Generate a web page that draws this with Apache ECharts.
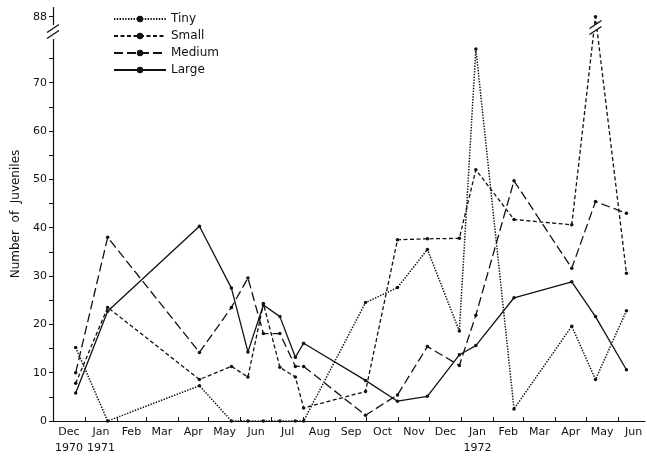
<!DOCTYPE html>
<html><head><meta charset="utf-8">
<script src="https://cdn.jsdelivr.net/npm/echarts@6/dist/echarts.min.js"></script>
<style>html,body{margin:0;padding:0;background:#fff}#c{width:647px;height:456px}</style>
</head><body><div id="c"></div>
<script>
// sampling dates
const sampleDates = ['1970-12-23','1971-01-23','1971-04-22','1971-05-23','1971-06-08','1971-06-23','1971-07-09','1971-07-24','1971-08-01','1971-09-30','1971-10-31','1971-11-29','1971-12-30','1972-01-15','1972-02-21','1972-04-17','1972-05-10','1972-06-09'];
const tiny   = [15.2, 0, 7.3, 0, 0, 0, 0, 0, 0, 24.5, 27.6, 35.5, 18.6, 77, 2.5, 19.6, 8.6, 22.8];
const small  = [7.8, 23.5, 8.6, 11.3, 9.1, 24.3, 11.1, 9.1, 2.7, 6.1, 37.5, 37.7, 37.8, 52, 41.7, 40.6, 88, 30.6];
const medium = [10, 38, 14.2, 23.5, 29.6, 18.1, 18.1, 11.3, 11.3, 1.2, 5.4, 15.4, 11.5, 21.9, 49.7, 31.6, 45.4, 43];
const large  = [5.8, 22.7, 40.3, 27.5, 14.3, 24, 21.6, 13.2, 16.1, 8.4, 4.1, 5.1, 13.7, 15.6, 25.5, 28.8, 21.6, 10.6];

// axis labels
const monthStarts = ['1970-12-01','1971-01-01','1971-02-01','1971-03-01','1971-04-01','1971-05-01','1971-06-01','1971-07-01','1971-08-01','1971-09-01','1971-10-01','1971-11-01','1971-12-01','1972-01-01','1972-02-01','1972-03-01','1972-04-01','1972-05-01','1972-06-01','1972-07-01'];
const monthNames = ['Dec','Jan','Feb','Mar','Apr','May','Jun','Jul','Aug','Sep','Oct','Nov','Dec','Jan','Feb','Mar','Apr','May','Jun'];
const yearNames  = ['1970','1971','','','','','','','','','','','','1972','','','','',''];
const yLabelValues = [0,10,20,30,40,50,60,70,88];
const yTickValues = [0,5,10,15,20,25,30,35,40,45,50,55,60,65,70,75,88];
const seriesNames = ['Tiny','Small','Medium','Large'];

const ts = s => +new Date(s + 'T00:00:00Z');
const tickTs = monthStarts.slice(0, 19).map(ts);
const labelTs = monthNames.map((m, i) => (ts(monthStarts[i]) + ts(monthStarts[i + 1])) / 2);
const labelMap = {};
labelTs.forEach((t, i) => { labelMap[t] = yearNames[i] ? monthNames[i] + '\n' + yearNames[i] : monthNames[i]; });

const FONT = 'DejaVu Sans';
const INK = '#111';
const dashes = [[1.4, 1.4], [4, 2.5], [9, 4], 'solid'];
const widths = [1.5, 1.3, 1.3, 1.3];
const seriesData = [tiny, small, medium, large];

const chart = echarts.init(document.getElementById('c'), null, {renderer: 'canvas'});
chart.setOption({
  animation: false,
  backgroundColor: '#fff',
  grid: {left: 53, right: 2, top: 7, bottom: 33, containLabel: false},
  legend: {
    orient: 'vertical', left: 108, top: 7, itemGap: 3,
    itemWidth: 52, itemHeight: 8,
    data: seriesNames,
    textStyle: {fontFamily: FONT, fontSize: 12, color: INK, lineHeight: 14}
  },
  xAxis: {
    type: 'value',
    min: ts('1970-12-01'), max: ts('1972-06-27'),
    splitLine: {show: false},
    axisLine: {lineStyle: {color: INK, width: 1.2}},
    axisTick: {inside: true, length: 4, customValues: tickTs, lineStyle: {color: INK}},
    axisLabel: {
      customValues: labelTs,
      formatter: v => labelMap[v] || '',
      fontFamily: FONT, fontSize: 11, color: INK, lineHeight: 16, margin: 3
    }
  },
  yAxis: {
    type: 'value', min: 0, max: 90,
    breaks: [{start: 79, end: 86.5, gap: '3.7%'}],
    breakArea: {show: false},
    name: 'Number  of  Juveniles', nameLocation: 'middle', nameGap: 25,
    nameTextStyle: {fontFamily: FONT, fontSize: 12, color: INK},
    splitLine: {show: false},
    axisLine: {show: true, lineStyle: {color: INK, width: 1.2}},
    axisTick: {show: true, length: 4, customValues: yTickValues, lineStyle: {color: INK}},
    axisLabel: {customValues: yLabelValues, fontFamily: FONT, fontSize: 11, color: INK, margin: 6}
  },
  series: seriesNames.map((n, k) => ({
    type: 'line', name: n,
    data: sampleDates.map((d, i) => [ts(d), seriesData[k][i]]),
    symbol: 'circle', symbolSize: 3.5, showSymbol: true,
    lineStyle: {color: INK, width: widths[k], type: dashes[k]},
    itemStyle: {color: INK}
  }))
});

// axis-break "//" marks
const yb = chart.convertToPixel({yAxisIndex: 0}, 82.75);
const xAxis0 = chart.convertToPixel({xAxisIndex: 0}, ts('1970-12-01'));
const xPeak = chart.convertToPixel({xAxisIndex: 0}, ts(sampleDates[16]));
const slash = (cx, cy) => [-3, 3].map(o => ({
  type: 'line', shape: {x1: cx - 6, y1: cy + o + 4, x2: cx + 6, y2: cy + o - 4},
  style: {stroke: INK, lineWidth: 1.3}, z: 100
}));
const whiteGap = (cx, cy) => ({type: 'polygon', shape: {points: [[cx - 6, cy + 1], [cx + 6, cy - 7], [cx + 6, cy - 1], [cx - 6, cy + 7]]}, style: {fill: '#fff'}, z: 99});
chart.setOption({graphic: [whiteGap(xAxis0, yb), ...slash(xAxis0, yb), whiteGap(xPeak, yb - 4), ...slash(xPeak, yb - 4)]});
</script>
</body></html>
